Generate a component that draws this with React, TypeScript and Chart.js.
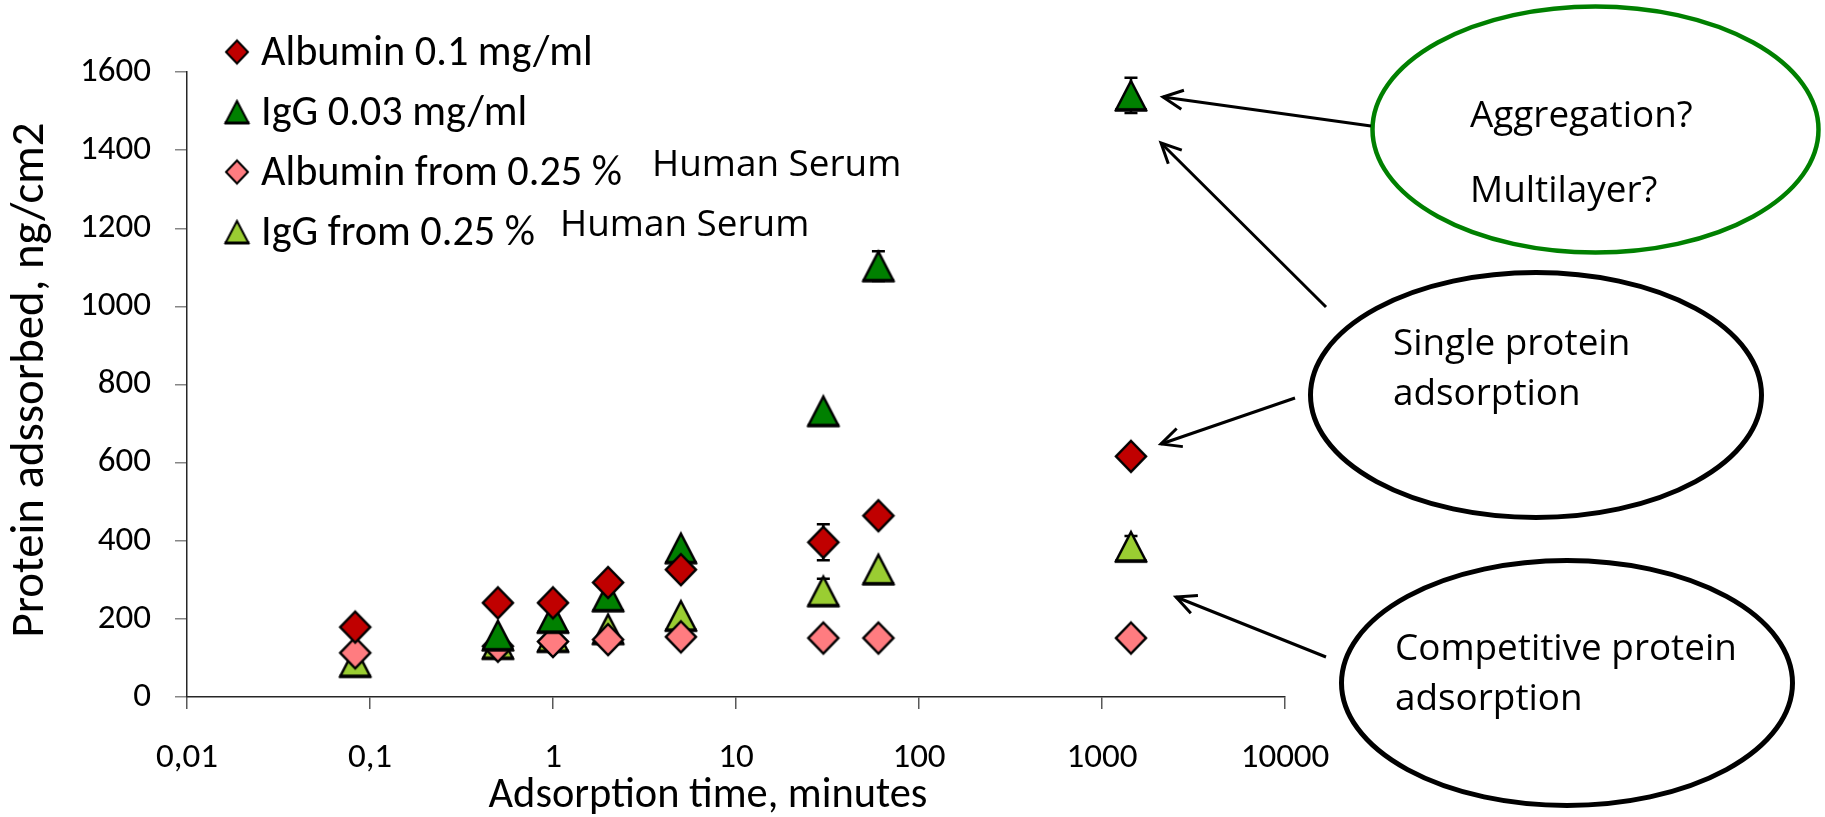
import React, { useEffect, useRef } from 'react';
import { Chart, registerables } from 'chart.js';

Chart.register(...registerables);

// ---------- data ----------
const times = [0.083, 0.5, 1, 2, 5, 30, 60, 1440];

const albumin01 = [179, 241, 241, 293, 326, 396, 464, 616];
const albumin01Err = [0, 0, 0, 0, 0, 46, 0, 0];

const igg003 = [null, 158, 203, 258, 381, 732, 1103, 1540];
const igg003Err = [0, 0, 0, 0, 0, 0, 38, 45];

const albuminSerum = [113, 130, 142, 147, 154, 151, 151, 151];
const albuminSerumErr = [0, 0, 0, 0, 0, 0, 0, 0];

const iggSerum = [90, 136, 154, 174, 208, 271, 327, 385];
const iggSerumErr = [0, 0, 0, 0, 0, 32, 0, 27];

const seriesLabels = ['Albumin 0.1 mg/ml', 'IgG 0.03 mg/ml', 'Albumin from 0.25 %', 'IgG from 0.25 %'];
const seriesColors = ['#C00000', '#008000', '#FF7C80', '#9ACD32'];
const seriesShapes = ['diamond', 'triangle', 'diamond', 'triangle'];

const xTickValues = [0.01, 0.1, 1, 10, 100, 1000, 10000];
const xTickLabels = ['0,01', '0,1', '1', '10', '100', '1000', '10000'];
const yTickValues = [0, 200, 400, 600, 800, 1000, 1200, 1400, 1600];

const xTitle = 'Adsorption time, minutes';
const yTitle = 'Protein adssorbed, ng/cm2';
const serumNote = 'Human Serum';
const aggregationLines = ['Aggregation?', 'Multilayer?'];
const singleLines = ['Single protein', 'adsorption'];
const competitiveLines = ['Competitive protein', 'adsorption'];

// ---------- helpers ----------
const MAIN_FONT = 'Carlito, Lato, sans-serif';
const NOTE_FONT = '"Open Sans", sans-serif';

function fitSize(text: string, family: string, target: number) {
  const c = document.createElement('canvas');
  const g = c.getContext('2d') as CanvasRenderingContext2D;
  g.font = `100px ${family}`;
  const w = g.measureText(text).width || 1;
  return (100 * target) / w;
}

function makeMarker(shape: string, color: string, w: number, h: number, lw: number) {
  const pad = 4;
  const c = document.createElement('canvas');
  c.width = Math.round(w + pad * 2);
  c.height = Math.round(h + pad * 2);
  const g = c.getContext('2d') as CanvasRenderingContext2D;
  const ox = (c.width - w) / 2;
  const oy = (c.height - h) / 2;
  g.beginPath();
  if (shape === 'diamond') {
    g.moveTo(ox + w / 2, oy);
    g.lineTo(ox + w, oy + h / 2);
    g.lineTo(ox + w / 2, oy + h);
    g.lineTo(ox, oy + h / 2);
  } else {
    g.moveTo(ox + w / 2, oy);
    g.lineTo(ox + w, oy + h);
    g.lineTo(ox, oy + h);
  }
  g.closePath();
  g.fillStyle = color;
  g.fill();
  g.lineWidth = lw;
  g.lineJoin = 'miter';
  g.miterLimit = 3;
  g.strokeStyle = '#000';
  g.stroke();
  if (shape === 'triangle') {
    g.beginPath();
    g.moveTo(ox - 1, oy + h);
    g.lineTo(ox + w + 1, oy + h);
    g.lineWidth = lw + 1;
    g.stroke();
  }
  return c;
}

function arrow(ctx: CanvasRenderingContext2D, x1: number, y1: number, x2: number, y2: number) {
  ctx.beginPath();
  ctx.moveTo(x1, y1);
  ctx.lineTo(x2, y2);
  ctx.stroke();
  const ang = Math.atan2(y1 - y2, x1 - x2);
  const len = 22;
  const spread = 0.45;
  ctx.beginPath();
  ctx.moveTo(x2 + Math.cos(ang + spread) * len, y2 + Math.sin(ang + spread) * len);
  ctx.lineTo(x2, y2);
  ctx.lineTo(x2 + Math.cos(ang - spread) * len, y2 + Math.sin(ang - spread) * len);
  ctx.stroke();
}

function ellipse(ctx: CanvasRenderingContext2D, cx: number, cy: number, rx: number, ry: number, color: string, lw: number) {
  ctx.beginPath();
  ctx.ellipse(cx, cy, rx, ry, 0, 0, Math.PI * 2);
  ctx.strokeStyle = color;
  ctx.lineWidth = lw;
  ctx.stroke();
}

export default function App() {
  const ref = useRef<HTMLCanvasElement | null>(null);

  useEffect(() => {
    if (!ref.current) return;
    const values = [albumin01, igg003, albuminSerum, iggSerum];
    const errors = [albumin01Err, igg003Err, albuminSerumErr, iggSerumErr];

    const tickSize = fitSize('1600', MAIN_FONT, 71);
    const legendSize = fitSize(seriesLabels[0], MAIN_FONT, 332);
    const xTitleSize = fitSize(xTitle, MAIN_FONT, 439);
    const yTitleSize = fitSize(yTitle, MAIN_FONT, 515);
    const noteSize = fitSize(competitiveLines[0], NOTE_FONT, 342);

    const plotMarkers = seriesShapes.map((s, i) =>
      s === 'diamond' ? makeMarker(s, seriesColors[i], 30, 31, 2.5) : makeMarker(s, seriesColors[i], 30, 29, 2.5)
    );
    const legendMarkers = seriesShapes.map((s, i) =>
      s === 'diamond' ? makeMarker(s, seriesColors[i], 22, 23, 2) : makeMarker(s, seriesColors[i], 23, 22, 2)
    );

    const datasets = seriesLabels.map((label, i) => ({
      label,
      data: times
        .map((t, j) => ({ x: t, y: values[i][j] }))
        .filter((p) => p.y !== null && p.y !== undefined),
      errors: times.map((t, j) => ({ x: t, y: values[i][j], e: errors[i][j] })),
      pointStyle: plotMarkers[i],
      pointRadius: 16,
      backgroundColor: seriesColors[i],
      borderColor: '#000',
      showLine: false,
      clip: false as any,
    }));

    const errorBars = {
      id: 'errorBars',
      beforeDatasetsDraw(chart: any) {
        const { ctx } = chart;
        const xs = chart.scales.x;
        const ys = chart.scales.y;
        ctx.save();
        ctx.strokeStyle = '#000';
        ctx.lineWidth = 2.5;
        chart.data.datasets.forEach((ds: any) => {
          ds.errors.forEach((p: any) => {
            if (p.y === null || !p.e) return;
            const px = xs.getPixelForValue(p.x);
            const top = ys.getPixelForValue(p.y + p.e);
            const bot = ys.getPixelForValue(p.y - p.e);
            ctx.beginPath();
            ctx.moveTo(px, top);
            ctx.lineTo(px, bot);
            ctx.moveTo(px - 6.5, top);
            ctx.lineTo(px + 6.5, top);
            ctx.moveTo(px - 6.5, bot);
            ctx.lineTo(px + 6.5, bot);
            ctx.stroke();
          });
        });
        ctx.restore();
      },
    };

    const decorations = {
      id: 'decorations',
      afterDraw(chart: any) {
        const { ctx } = chart;
        ctx.save();
        // legend
        ctx.fillStyle = '#000';
        ctx.font = `${legendSize}px ${MAIN_FONT}`;
        ctx.textAlign = 'left';
        ctx.textBaseline = 'alphabetic';
        seriesLabels.forEach((label, i) => {
          const cy = 52 + i * 60;
          const m = legendMarkers[i];
          ctx.drawImage(m, 237 - m.width / 2, cy - m.height / 2);
          ctx.fillText(label, 261, cy + 12.5);
        });
        // "Human Serum" notes
        ctx.font = `${noteSize}px ${NOTE_FONT}`;
        ctx.fillText(serumNote, 652, 176);
        ctx.fillText(serumNote, 560, 236);

        // axis titles
        ctx.font = `${xTitleSize}px ${MAIN_FONT}`;
        ctx.textAlign = 'center';
        ctx.fillText(xTitle, 708, 807);
        ctx.save();
        ctx.translate(31, 380);
        ctx.rotate(-Math.PI / 2);
        ctx.textBaseline = 'middle';
        ctx.font = `${yTitleSize}px ${MAIN_FONT}`;
        ctx.fillText(yTitle, 0, 0);
        ctx.restore();

        // ellipses
        ellipse(ctx, 1595.5, 129.5, 223, 123, '#008000', 4.5);
        ellipse(ctx, 1536, 395, 225.5, 122.5, '#000', 5);
        ellipse(ctx, 1567, 683, 225.5, 122.5, '#000', 5);

        // arrows
        ctx.strokeStyle = '#000';
        ctx.lineWidth = 3;
        ctx.lineCap = 'butt';
        arrow(ctx, 1371, 126, 1163, 97);
        arrow(ctx, 1326, 307, 1161, 143);
        arrow(ctx, 1295, 398, 1161, 444);
        arrow(ctx, 1326, 657, 1176, 597);

        // ellipse texts
        ctx.fillStyle = '#000';
        ctx.font = `${noteSize}px ${NOTE_FONT}`;
        ctx.textAlign = 'left';
        ctx.textBaseline = 'alphabetic';
        ctx.fillText(aggregationLines[0], 1470, 127);
        ctx.fillText(aggregationLines[1], 1470, 202);
        ctx.fillText(singleLines[0], 1393, 355);
        ctx.fillText(singleLines[1], 1393, 405);
        ctx.fillText(competitiveLines[0], 1395, 660);
        ctx.fillText(competitiveLines[1], 1395, 710);
        ctx.restore();
      },
    };

    const chart = new Chart(ref.current, {
      type: 'scatter',
      data: { datasets: datasets as any },
      options: {
        animation: false,
        responsive: false,
        devicePixelRatio: 1,
        layout: { padding: { left: 0, top: 72, right: 540, bottom: 0 } },
        plugins: {
          legend: { display: false },
          tooltip: { enabled: false },
        },
        scales: {
          x: {
            type: 'logarithmic',
            min: 0.01,
            max: 10000,
            afterBuildTicks: (scale: any) => {
              scale.ticks = xTickValues.map((value) => ({ value }));
            },
            afterFit: (scale: any) => {
              scale.height = 120;
            },
            ticks: {
              autoSkip: false,
              maxRotation: 0,
              padding: 28,
              color: '#000',
              font: { family: MAIN_FONT, size: tickSize },
              callback: (_v: any, i: number) => xTickLabels[i],
            },
            grid: { display: true, drawOnChartArea: false, drawTicks: true, tickLength: 12, color: '#595959', lineWidth: 1.5 },
            border: { display: true, color: '#262626', width: 1.5 },
            title: { display: false },
          },
          y: {
            type: 'linear',
            min: 0,
            max: 1600,
            afterBuildTicks: (scale: any) => {
              scale.ticks = yTickValues.map((value) => ({ value }));
            },
            afterFit: (scale: any) => {
              scale.width = 187;
            },
            ticks: {
              padding: 24,
              color: '#000',
              font: { family: MAIN_FONT, size: tickSize },
              callback: (v: any) => String(v),
            },
            grid: { display: true, drawOnChartArea: false, drawTicks: true, tickLength: 12, color: '#868686', lineWidth: 1.5 },
            border: { display: true, color: '#262626', width: 1.5 },
            title: { display: false },
          },
        },
      } as any,
      plugins: [errorBars, decorations],
    });
    return () => chart.destroy();
  }, []);

  return (
    <div style={{ position: 'absolute', left: 0, top: 0, width: 1825, height: 817, background: '#fff' }}>
      <canvas ref={ref} width={1825} height={817} style={{ width: 1825, height: 817, display: 'block' }} />
    </div>
  );
}
